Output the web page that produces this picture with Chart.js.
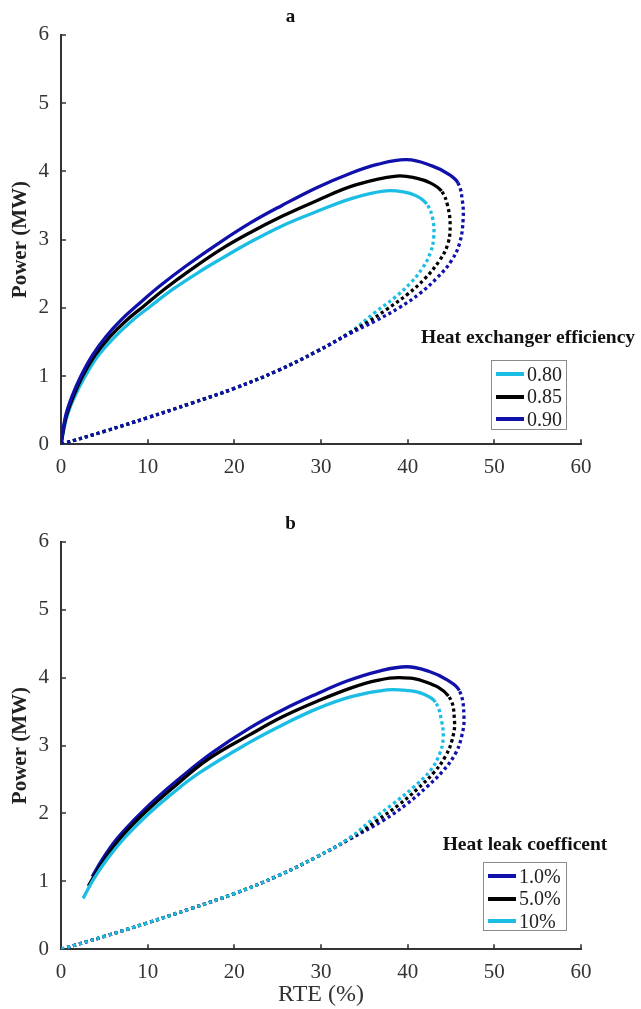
<!DOCTYPE html>
<html>
<head>
<meta charset="utf-8">
<script src="https://cdn.jsdelivr.net/npm/chart.js@4.4.1/dist/chart.umd.min.js"></script>
<style>
  body { margin: 0; background: #fff; width: 641px; height: 1009px; position: relative; overflow: hidden; font-family: "Liberation Serif", serif; }
  canvas { position: absolute; left: 0; }
  .lg-title { position: absolute; font-weight: bold; font-size: 19.5px; white-space: nowrap; transform: translate(-50%, -50%); color: #111; }
  .lg-box { position: absolute; border: 1px solid #8a8a8a; background: #fff; box-sizing: border-box; }
  .lg-row { position: absolute; left: 4px; height: 22px; display: flex; align-items: center; font-size: 20px; color: #222; }
  .lg-row span.sw { display: inline-block; width: 28px; height: 4px; margin-right: 3px; }
</style>
</head>
<body>
<canvas id="chartA" width="641" height="500" style="top:0"></canvas>
<canvas id="chartB" width="641" height="509" style="top:500px"></canvas>
<div id="legends"></div>
<script>
// axis ticks
const rteTicks = [0, 10, 20, 30, 40, 50, 60];
const powerTicks = [0, 1, 2, 3, 4, 5, 6];

// panel a: heat exchanger efficiency (upper branch solid, lower branch dotted)
const hxLabels = ['0.80', '0.85', '0.90'];
const rteUpA80 = [0, 0.6, 1.4, 2.8, 4.3, 6.1, 8.1, 10.3, 13, 16, 18.5, 21.8, 25.5, 29.5, 33.5, 37.2, 39.5, 41, 42.2];
const powUpA80 = [0, 0.37, 0.65, 1.0, 1.3, 1.56, 1.8, 2.02, 2.28, 2.53, 2.72, 2.96, 3.2, 3.41, 3.6, 3.71, 3.7, 3.64, 3.52];
const rteLoA80 = [42.9, 43.0, 42.6, 41.7, 40.3, 38.6, 36.2, 33.3, 29.5, 25, 20, 15, 10, 5, 0];
const powLoA80 = [3.3, 3.02, 2.8, 2.58, 2.36, 2.16, 1.93, 1.64, 1.36, 1.08, 0.82, 0.6, 0.39, 0.19, 0];

const rteUpA85 = [0, 0.55, 1.3, 2.5, 3.9, 5.6, 7.5, 9.5, 12, 15, 18.5, 21.8, 25.5, 29.5, 34, 38.7, 41, 42.6, 43.9];
const powUpA85 = [0, 0.38, 0.66, 1.0, 1.3, 1.57, 1.81, 2.02, 2.28, 2.56, 2.86, 3.1, 3.34, 3.57, 3.8, 3.93, 3.9, 3.83, 3.71];
const rteLoA85 = [44.6, 44.9, 44.6, 43.6, 42, 40, 37.5, 35.5, 33.3, 29.5, 25, 20, 15, 10, 5, 0];
const powLoA85 = [3.5, 3.2, 2.92, 2.68, 2.43, 2.2, 1.97, 1.8, 1.63, 1.36, 1.08, 0.82, 0.6, 0.39, 0.19, 0];

const rteUpA90 = [0, 0.5, 1.2, 2.3, 3.6, 5.2, 7, 9, 11.5, 14.5, 18, 21.8, 25.5, 29.5, 33, 36.5, 39.9, 42.8, 44.7, 45.8];
const powUpA90 = [0, 0.4, 0.68, 1.0, 1.3, 1.58, 1.83, 2.06, 2.33, 2.62, 2.93, 3.24, 3.5, 3.76, 3.95, 4.1, 4.17, 4.08, 3.96, 3.83];
const rteLoA90 = [46.3, 46.4, 46.0, 45.0, 43.4, 41.4, 39, 36.3, 33.3, 29.5, 25, 20, 15, 10, 5, 0];
const powLoA90 = [3.58, 3.3, 2.95, 2.68, 2.44, 2.21, 2.0, 1.81, 1.62, 1.36, 1.08, 0.82, 0.6, 0.39, 0.19, 0];

// panel b: heat leak coefficient
const leakLabels = ['1.0%', '5.0%', '10%'];
const rteUpB1 = [3.6, 4.8, 6.4, 8.4, 10.8, 13.8, 17.5, 21.8, 25.5, 29.5, 33, 36.5, 39.9, 42.5, 44.5, 45.96];
const powUpB1 = [1.07, 1.33, 1.62, 1.9, 2.2, 2.53, 2.9, 3.26, 3.52, 3.76, 3.95, 4.09, 4.16, 4.09, 3.97, 3.81];
const rteLoB1 = [46.5, 46.2, 45.5, 44.1, 42.2, 39.9, 37.2, 33.3, 29.5, 25, 20, 15, 10, 5, 0];
const powLoB1 = [3.42, 3.12, 2.88, 2.63, 2.39, 2.14, 1.9, 1.62, 1.36, 1.08, 0.82, 0.6, 0.39, 0.19, 0];

const rteUpB5 = [3.15, 4.4, 6, 8, 10.4, 13.3, 17, 21.8, 25.5, 29.5, 33.5, 36.5, 39.1, 42, 44.7];
const powUpB5 = [0.93, 1.2, 1.5, 1.8, 2.1, 2.42, 2.8, 3.16, 3.42, 3.65, 3.85, 3.96, 4.0, 3.94, 3.73];
const rteLoB5 = [45.4, 45.1, 44.3, 43.0, 41.2, 39.0, 36.5, 33.3, 29.5, 25, 20, 15, 10, 5, 0];
const powLoB5 = [3.37, 3.07, 2.83, 2.6, 2.37, 2.13, 1.9, 1.63, 1.36, 1.08, 0.82, 0.6, 0.39, 0.19, 0];

const rteUpB10 = [2.55, 3.8, 5.4, 7.4, 9.8, 12.6, 16, 21.8, 25.5, 29.5, 33.5, 37.6, 40, 41.8, 43.2];
const powUpB10 = [0.75, 1.04, 1.34, 1.65, 1.96, 2.27, 2.6, 3.05, 3.3, 3.54, 3.72, 3.82, 3.81, 3.76, 3.64];
const rteLoB10 = [43.9, 44.1, 43.7, 42.6, 40.7, 38.3, 35.8, 33.3, 29.5, 25, 20, 15, 10, 5, 0];
const powLoB10 = [3.37, 3.12, 2.88, 2.63, 2.39, 2.14, 1.9, 1.64, 1.36, 1.08, 0.82, 0.6, 0.39, 0.19, 0];

const CYAN = '#1bbde4';
const BLACK = '#000000';
const BLUE = '#1010aa';
const FONT = 'Liberation Serif';

// one dataset per curve: dotted lower branch traced from the origin (so the
// dots of the overlapping curves line up), then the solid upper branch back
function loop(label, color, order, rteUp, powUp, rteLo, powLo) {
  const xs = rteLo.slice().reverse().concat(rteUp.slice().reverse());
  const ys = powLo.slice().reverse().concat(powUp.slice().reverse());
  const nLo = rteLo.length;
  return {
    label: label,
    data: xs.map((x, i) => ({ x: x, y: ys[i] })),
    borderColor: color,
    backgroundColor: color,
    borderWidth: 3.3,
    borderCapStyle: 'butt',
    pointRadius: 0,
    tension: 0.4,
    order: order,
    segment: {
      borderDash: c => c.p0DataIndex < nLo ? [3.2, 3] : undefined
    }
  };
}

const inwardTicks = {
  id: 'inwardTicks',
  beforeDatasetsDraw(chart) {
    const { ctx, chartArea, scales } = chart;
    ctx.save();
    ctx.strokeStyle = '#333';
    ctx.lineWidth = 1.6;
    ctx.beginPath();
    scales.x.ticks.forEach(t => {
      const px = Math.round(scales.x.getPixelForValue(t.value));
      ctx.moveTo(px, chartArea.bottom);
      ctx.lineTo(px, chartArea.bottom - 5);
    });
    scales.y.ticks.forEach(t => {
      const py = Math.round(scales.y.getPixelForValue(t.value));
      ctx.moveTo(chartArea.left, py);
      ctx.lineTo(chartArea.left + 5, py);
    });
    ctx.stroke();
    ctx.restore();
  }
};

function makeChart(id, title, padTop, xHeight, xTitle, datasets) {
  return new Chart(document.getElementById(id), {
    type: 'line',
    data: { datasets: datasets },
    plugins: [inwardTicks],
    options: {
      responsive: false,
      animation: false,
      layout: { padding: { top: padTop, right: 60, bottom: 0, left: 0 } },
      plugins: {
        legend: { display: false },
        tooltip: { enabled: false },
        title: {
          display: true,
          text: title,
          color: '#111',
          font: { family: FONT, size: 19, weight: 'bold' },
          padding: { top: 6, bottom: 6 }
        }
      },
      scales: {
        x: {
          type: 'linear',
          min: 0,
          max: 60,
          afterBuildTicks: s => { s.ticks = rteTicks.map(v => ({ value: v })); },
          afterFit: s => { s.height = xHeight; },
          grid: { display: false, drawTicks: false },
          border: { display: true, color: '#333', width: 2 },
          ticks: { color: '#333', padding: 11, font: { family: FONT, size: 21 } },
          title: {
            display: !!xTitle,
            text: xTitle,
            color: '#333',
            font: { family: FONT, size: 24 },
            padding: { top: 0, bottom: 0 }
          }
        },
        y: {
          min: 0,
          max: 6,
          afterBuildTicks: s => { s.ticks = powerTicks.map(v => ({ value: v })); },
          afterFit: s => { s.width = 61; },
          grid: { display: false, drawTicks: false },
          border: { display: true, color: '#333', width: 2 },
          ticks: { color: '#333', padding: 12, font: { family: FONT, size: 21 } },
          title: {
            display: true,
            text: 'Power (MW)',
            color: '#222',
            font: { family: FONT, size: 21, weight: 'bold' },
            padding: { top: 8, bottom: 0 }
          }
        }
      }
    }
  });
}

makeChart('chartA', 'a', 0, 55.7, '', [
  loop(hxLabels[0], CYAN, 3, rteUpA80, powUpA80, rteLoA80, powLoA80),
  loop(hxLabels[1], BLACK, 2, rteUpA85, powUpA85, rteLoA85, powLoA85),
  loop(hxLabels[2], BLUE, 1, rteUpA90, powUpA90, rteLoA90, powLoA90)
]);

makeChart('chartB', 'b', 7, 59.7, 'RTE (%)', [
  loop(leakLabels[0], BLUE, 3, rteUpB1, powUpB1, rteLoB1, powLoB1),
  loop(leakLabels[1], BLACK, 2, rteUpB5, powUpB5, rteLoB5, powLoB5),
  loop(leakLabels[2], CYAN, 1, rteUpB10, powUpB10, rteLoB10, powLoB10)
]);

// legends: bold title above a framed box
function legend(titleText, cx, cy, box, labels, colors) {
  const host = document.getElementById('legends');
  const t = document.createElement('div');
  t.className = 'lg-title';
  t.style.left = cx + 'px';
  t.style.top = cy + 'px';
  t.textContent = titleText;
  host.appendChild(t);
  const b = document.createElement('div');
  b.className = 'lg-box';
  b.style.left = box[0] + 'px';
  b.style.top = box[1] + 'px';
  b.style.width = box[2] + 'px';
  b.style.height = box[3] + 'px';
  labels.forEach((lab, i) => {
    const r = document.createElement('div');
    r.className = 'lg-row';
    r.style.top = (2 + i * 22.7) + 'px';
    const sw = document.createElement('span');
    sw.className = 'sw';
    sw.style.background = colors[i];
    r.appendChild(sw);
    r.appendChild(document.createTextNode(lab));
    b.appendChild(r);
  });
  host.appendChild(b);
}

legend('Heat exchanger efficiency', 528, 337, [491, 360, 76, 70], hxLabels, [CYAN, BLACK, BLUE]);
legend('Heat leak coefficent', 525, 844, [483, 862, 84, 69], leakLabels, [BLUE, BLACK, CYAN]);
</script>
</body>
</html>
